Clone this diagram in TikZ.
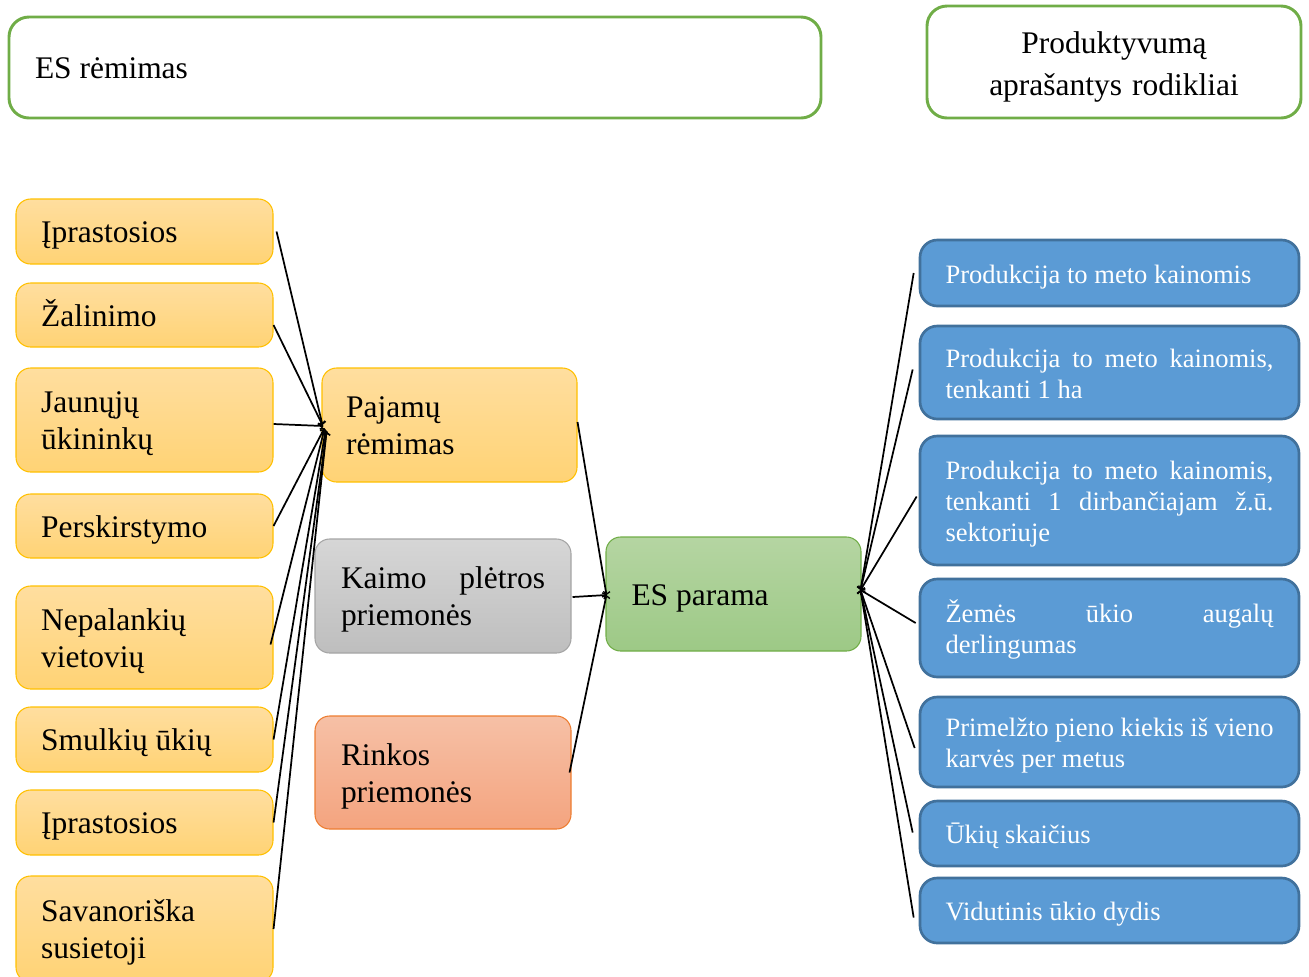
\documentclass[tikz,border=0pt]{standalone}
\usepackage{fontspec}
\setmainfont{Liberation Serif}
\usetikzlibrary{calc,arrows.meta}

\definecolor{ylTop}{HTML}{FFDE9F}
\definecolor{ylBot}{HTML}{FFD375}
\definecolor{ylLine}{HTML}{FFC000}
\definecolor{gyTop}{HTML}{D6D6D6}
\definecolor{gyBot}{HTML}{BEBEBE}
\definecolor{gyLine}{HTML}{A5A5A5}
\definecolor{orTop}{HTML}{F6C0A6}
\definecolor{orBot}{HTML}{F4A47F}
\definecolor{orLine}{HTML}{ED7D31}
\definecolor{grTop}{HTML}{B5D5A2}
\definecolor{grBot}{HTML}{9DC986}
\definecolor{grLine}{HTML}{70AD47}
\definecolor{blFill}{HTML}{5B9BD5}
\definecolor{blLine}{HTML}{41719C}

% place a box by its outer corners (in px units)
\newcommand\pxbox[7]{%
  \pgfmathsetmacro\bxw{(#5-#3)*0.75}%
  \pgfmathsetmacro\bxh{(#6-#4)*0.75}%
  \pgfmathsetmacro\bxcx{(#3+#5)/2}%
  \pgfmathsetmacro\bxcy{(#4+#6)/2}%
  \node[#2, minimum width=\bxw pt, minimum height=\bxh pt] (#1) at (\bxcx,\bxcy) {#7};%
}
% a line whose words are spread over the full width
\newcommand\spread[2]{\makebox[#1][s]{#2}}

\tikzset{
  x=0.75pt, y=-0.75pt,
  boxtext/.style={
    execute at begin node={\spaceskip=0pt\xspaceskip=0pt\relax
      \rule{0pt}{\dimexpr0.7\baselineskip+6pt\relax}},
    execute at end node={\strut}},
  bigtext/.style={boxtext, font=\fontsize{23.6pt}{27.75pt}\selectfont},
  smalltext/.style={boxtext, font=\fontsize{19.9pt}{23.25pt}\selectfont},
  ybox/.style={bigtext, rectangle, rounded corners=11pt, draw=ylLine, line width=0.8pt,
    top color=ylTop, bottom color=ylBot, text width=155pt, inner xsep=17.75pt,
    inner ysep=0pt, align=left},
  gbox/.style={ybox, draw=gyLine, top color=gyTop, bottom color=gyBot},
  obox/.style={ybox, draw=orLine, top color=orTop, bottom color=orBot},
  esbox/.style={ybox, draw=grLine, top color=grTop, bottom color=grBot},
  bbox/.style={smalltext, rectangle, rounded corners=13pt, draw=blLine, line width=2pt,
    fill=blFill, text=white, text width=246pt, inner xsep=19pt, inner ysep=0pt, align=left},
  topbox/.style={bigtext, rectangle, rounded corners=15pt, draw=grLine, line width=2.2pt,
    fill=white, inner ysep=0pt},
  link/.style={draw=black, line width=1.3pt,
    -{Straight Barb[length=1.5pt,width=6pt,line width=1pt]}},
}

\begin{document}
\begin{tikzpicture}
\useasboundingbox (0,0) rectangle (1309,976);
\clip (0,0) rectangle (1309,976);

% heading boxes
\pxbox{head}{topbox, text width=570pt, inner xsep=19.5pt, align=left}{9}{17}{821}{118}{ES rėmimas}
\pxbox{prod}{topbox, font=\fontsize{23.6pt}{31.5pt}\selectfont, text width=240pt, inner xsep=20pt, align=center}{927}{6}{1301}{118}{Produktyvumą\\aprašantys rodikliai}

% income support instruments
\pxbox{y1}{ybox}{16}{199}{273}{264}{Įprastosios}
\pxbox{y2}{ybox}{16}{283}{273}{347}{Žalinimo}
\pxbox{y3}{ybox}{16}{368}{273}{472}{Jaunųjų\\ūkininkų}
\pxbox{y4}{ybox}{16}{494}{273}{558}{Perskirstymo}
\pxbox{y5}{ybox}{16}{586}{273}{689}{Nepalankių\\vietovių}
\pxbox{y6}{ybox}{16}{707}{273}{772}{Smulkių ūkių}
\pxbox{y7}{ybox}{16}{790}{273}{855}{Įprastosios}
\pxbox{y8}{ybox}{16}{876}{273}{982}{Savanoriška\\susietoji}

% support groups
\pxbox{paj}{ybox}{322}{368}{577}{482}{Pajamų\\rėmimas}
\pxbox{kaimo}{gbox, text width=153pt, inner xsep=19pt}{315}{539}{571}{653}{\spread{153pt}{Kaimo plėtros}\\priemonės}
\pxbox{rink}{obox, text width=153pt, inner xsep=19pt}{315}{716}{571}{829}{Rinkos\\priemonės}
\pxbox{es}{esbox, text width=153pt, inner xsep=19pt}{606}{537}{861}{651}{ES parama}

% productivity indicators
\pxbox{b1}{bbox}{920}{240}{1299}{306}{Produkcija to meto kainomis}
\pxbox{b2}{bbox}{920}{326}{1299}{419}{\spread{246pt}{Produkcija to meto kainomis,}\\tenkanti 1 ha}
\pxbox{b3}{bbox}{920}{436}{1299}{565}{\spread{246pt}{Produkcija to meto kainomis,}\\\spread{246pt}{tenkanti 1 dirbančiajam ž.ū.}\\sektoriuje}
\pxbox{b4}{bbox}{920}{579}{1299}{677}{\spread{246pt}{Žemės ūkio augalų}\\derlingumas}
\pxbox{b5}{bbox}{920}{697}{1299}{787}{\spread{246pt}{Primelžto pieno kiekis iš vieno}\\karvės per metus}
\pxbox{b6}{bbox}{920}{801}{1299}{866}{Ūkių skaičius}
\pxbox{b7}{bbox}{920}{878}{1299}{943}{Vidutinis ūkio dydis}

% meeting points of the connectors
\coordinate (hubP) at ($(paj.west)+(3,4)$);
\coordinate (hubL) at ($(es.west)+(1,1)$);
\coordinate (hubR) at ($(es.east)+(-1,-4)$);

% instruments -> income support
\draw[link] ($(y1.east)+(3,0)$) -- ($(paj.west)+(1,0)$);
\draw[link] ($(y2.east)+(0,10)$) -- ($(paj.west)+(1,0)$);
\draw[link] ($(y3.east)+(0,4)$) -- ($(paj.west)+(2,1)$);
\draw[link] (y4.east) -- ($(paj.west)+(3,3)$);
\draw[link] ($(y5.east)+(-3,7)$) -- (hubP);
\draw[link] (y6.east) -- ($(paj.west)+(4,6)$);
\draw[link] (y7.east) -- ($(paj.west)+(5,7)$);
\draw[link] (y8.east) -- ($(paj.west)+(5,7)$);

% groups -> EU support
\draw[link] ($(paj.east)+(0,-3)$) -- (hubL);
\draw[link] ($(kaimo.east)+(1,1)$) -- (hubL);
\draw[link] ($(rink.east)+(-2,0)$) -- (hubL);

% indicators -> EU support
\draw[link] ($(b1.west)+(-5,0)$) -- (hubR);
\draw[link] ($(b2.west)+(-6,-3)$) -- (hubR);
\draw[link] ($(b3.west)+(-2,-4)$) -- (hubR);
\draw[link] ($(b4.west)+(-3,-5)$) -- (hubR);
\draw[link] ($(b5.west)+(-4,6)$) -- (hubR);
\draw[link] ($(b6.west)+(-6,-1)$) -- (hubR);
\draw[link] ($(b7.west)+(-5,7)$) -- (hubR);
\end{tikzpicture}
\end{document}
